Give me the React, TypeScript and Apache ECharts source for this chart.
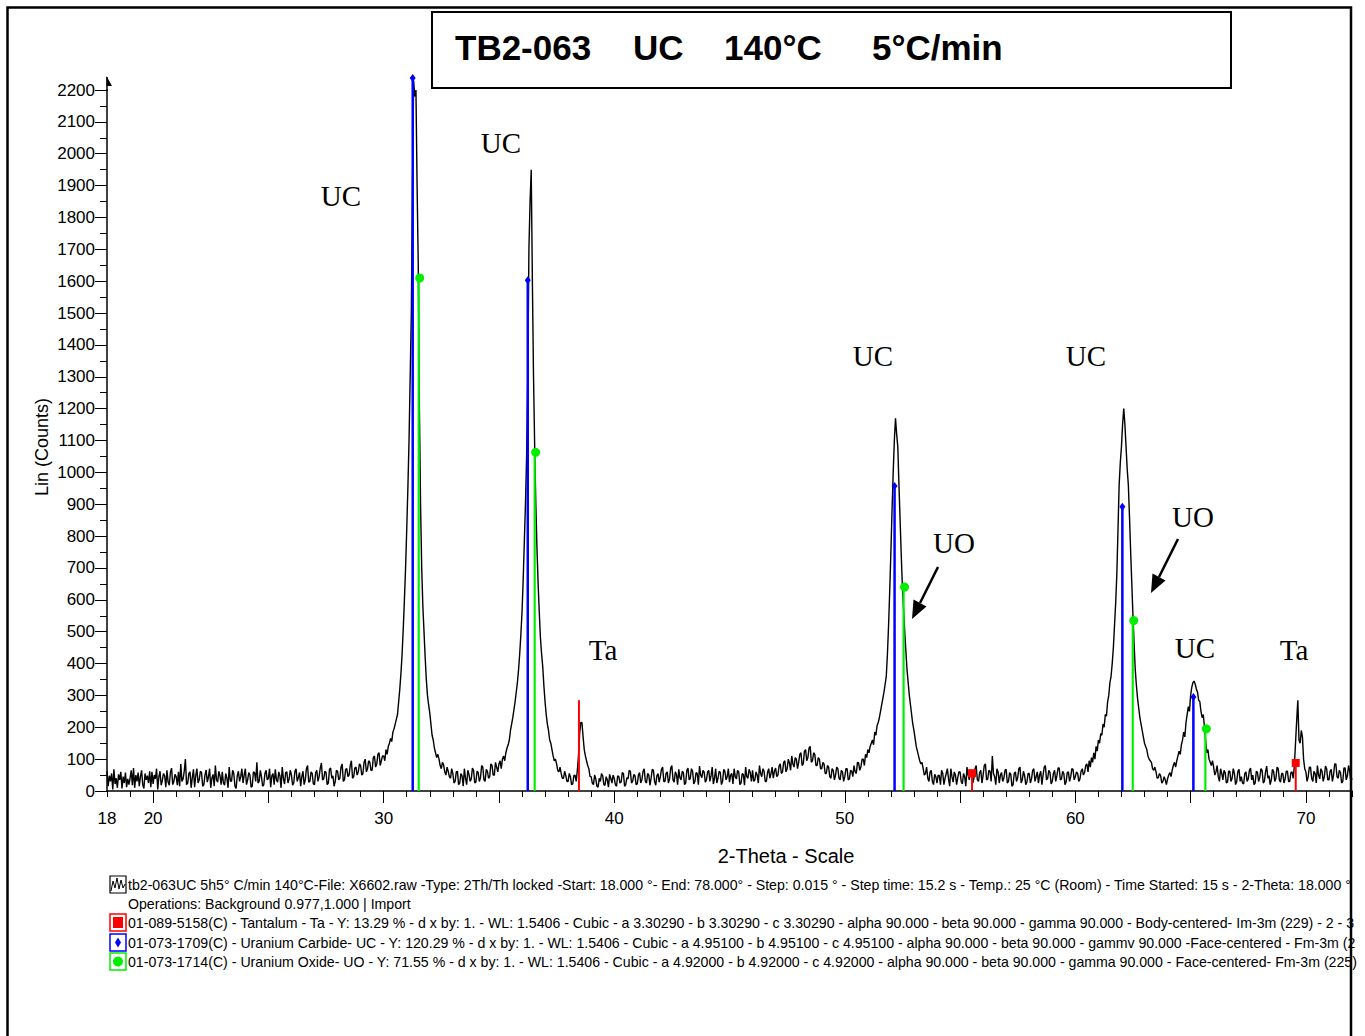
import React, { useEffect, useRef } from "react";
import * as echarts from "echarts";

// ---- data ----
const scanStart = 18.0;
const scanStep = 0.05;
// Lin (Counts), one value per 0.05° 2-theta, 18.00 .. 72.00 (20 values per degree)
const counts: number[] = [
  62, 15, 48, 30, 55, 5, 68, 22, 40, 10, 52, 35, 60, 8, 45, 25, 58, 12, 38, 20, // 18
  40, 65, 18, 72, 10, 50, 30, 58, 15, 45, 65, 20, 8, 55, 35, 48, 25, 62, 12, 60, // 19
  22, 50, 38, 70, 5, 44, 62, 18, 33, 55, 48, 12, 65, 28, 18, 58, 72, 20, 30, 52, // 20
  45, 18, 60, 15, 85, 30, 38, 62, 100, 20, 25, 55, 60, 10, 42, 68, 12, 48, 70, 25, // 21
  35, 62, 58, 15, 20, 50, 66, 28, 44, 70, 10, 40, 52, 15, 80, 35, 28, 62, 48, 20, // 22
  60, 25, 18, 55, 40, 10, 75, 32, 30, 65, 55, 15, 8, 48, 62, 30, 45, 70, 25, 50, // 23
  70, 20, 35, 58, 50, 12, 15, 60, 58, 30, 90, 25, 30, 65, 45, 15, 20, 55, 65, 35, // 24
  40, 70, 12, 48, 55, 20, 68, 35, 28, 60, 48, 10, 75, 40, 22, 58, 60, 25, 38, 65, // 25
  50, 18, 25, 62, 70, 30, 42, 58, 15, 45, 62, 20, 35, 70, 80, 28, 30, 60, 55, 22, // 26
  20, 58, 65, 30, 45, 72, 88, 35, 38, 62, 58, 20, 25, 68, 72, 40, 48, 15, 30, 65, // 27
  62, 35, 40, 75, 85, 30, 35, 68, 70, 45, 50, 80, 95, 40, 45, 72, 75, 50, 60, 85, // 28
  80, 50, 55, 90, 100, 60, 70, 95, 90, 65, 65, 105, 110, 75, 85, 115, 120, 80, 95, 110, // 29
  110, 95, 130, 115, 140, 150, 165, 155, 185, 195, 210, 225, 240, 280, 320, 370, 430, 510, 600, 700, // 30
  820, 950, 1100, 1300, 1500, 1900, 2230, 2180, 2200, 1900, 1650, 1200, 900, 700, 580, 500, 420, 350, 300, 270, // 31
  245, 210, 175, 160, 135, 120, 105, 115, 100, 80, 70, 90, 82, 60, 50, 75, 62, 45, 40, 70, // 32
  55, 25, 30, 60, 62, 20, 25, 55, 48, 15, 70, 40, 20, 65, 52, 30, 38, 72, 65, 25, // 33
  28, 62, 58, 30, 42, 80, 75, 35, 30, 68, 62, 40, 45, 85, 80, 50, 50, 90, 75, 60, // 34
  85, 95, 70, 100, 110, 95, 120, 135, 145, 160, 190, 210, 230, 255, 280, 310, 340, 380, 430, 490, // 35
  560, 660, 780, 900, 1050, 1300, 1700, 1850, 1950, 1600, 1300, 1080, 900, 760, 650, 560, 480, 430, 390, 330, // 36
  280, 240, 210, 190, 160, 150, 130, 110, 95, 100, 85, 65, 60, 75, 55, 40, 40, 62, 48, 30, // 37
  30, 55, 45, 20, 22, 48, 50, 30, 65, 110, 180, 215, 215, 170, 130, 110, 95, 80, 70, 45, // 38
  45, 25, 20, 50, 38, 15, 12, 40, 30, 55, 48, 20, 18, 45, 35, 12, 52, 40, 25, 50, // 39
  40, 20, 15, 48, 45, 25, 28, 58, 55, 15, 20, 42, 38, 65, 62, 25, 30, 52, 48, 20, // 40
  22, 50, 58, 25, 35, 62, 70, 30, 25, 55, 50, 18, 40, 68, 65, 30, 18, 48, 55, 28, // 41
  45, 68, 75, 30, 30, 55, 60, 25, 38, 72, 80, 35, 28, 60, 52, 20, 68, 42, 35, 62, // 42
  58, 20, 25, 65, 72, 35, 40, 70, 62, 22, 30, 58, 55, 20, 78, 50, 42, 65, 60, 28, // 43
  35, 60, 65, 30, 48, 75, 22, 40, 70, 25, 40, 62, 58, 20, 30, 68, 62, 35, 45, 70, // 44
  28, 50, 55, 22, 70, 45, 38, 65, 60, 20, 25, 55, 52, 18, 75, 45, 40, 68, 58, 30, // 45
  65, 30, 35, 60, 50, 25, 80, 55, 45, 70, 62, 30, 30, 58, 70, 40, 55, 75, 40, 62, // 46
  72, 45, 50, 78, 85, 55, 60, 90, 95, 60, 70, 100, 88, 65, 110, 85, 75, 105, 100, 70, // 47
  90, 115, 120, 80, 85, 125, 130, 95, 105, 135, 140, 90, 95, 120, 115, 80, 80, 105, 100, 70, // 48
  70, 90, 85, 55, 55, 80, 75, 45, 40, 70, 65, 35, 50, 75, 70, 40, 35, 65, 60, 30, // 49
  45, 70, 70, 35, 38, 65, 62, 45, 80, 60, 55, 90, 88, 65, 75, 100, 100, 80, 115, 105, // 50
  130, 120, 140, 150, 160, 145, 185, 175, 205, 215, 230, 250, 270, 290, 310, 335, 360, 430, 520, 630, // 51
  750, 880, 1000, 1100, 1170, 1120, 1080, 960, 850, 740, 640, 570, 500, 440, 380, 340, 300, 270, 240, 210, // 52
  190, 165, 140, 125, 110, 95, 85, 90, 70, 50, 55, 75, 40, 30, 60, 65, 30, 20, 52, 45, // 53
  25, 50, 48, 20, 65, 55, 20, 40, 55, 70, 38, 15, 70, 45, 28, 60, 50, 20, 42, 60, // 54
  60, 30, 22, 55, 45, 15, 75, 50, 35, 62, 58, 25, 40, 70, 80, 35, 30, 58, 65, 25, // 55
  50, 80, 85, 35, 38, 65, 62, 30, 110, 55, 45, 20, 70, 60, 25, 50, 58, 30, 40, 65, // 56
  68, 25, 30, 58, 52, 15, 20, 55, 60, 30, 42, 70, 75, 25, 35, 62, 48, 20, 28, 55, // 57
  55, 25, 38, 65, 70, 30, 45, 60, 25, 50, 62, 20, 50, 75, 80, 35, 40, 65, 58, 22, // 58
  30, 55, 65, 30, 48, 72, 72, 35, 38, 62, 55, 20, 28, 58, 60, 30, 45, 70, 68, 35, // 59
  45, 60, 55, 30, 38, 62, 70, 50, 58, 80, 85, 60, 95, 75, 105, 90, 120, 100, 140, 125, // 60
  160, 150, 180, 175, 210, 200, 240, 235, 280, 300, 340, 360, 400, 450, 520, 590, 680, 820, 960, 1030, // 61
  1080, 1150, 1200, 1150, 1080, 1010, 960, 860, 750, 650, 550, 460, 380, 330, 290, 260, 230, 210, 190, 170, // 62
  150, 140, 130, 110, 100, 95, 90, 70, 65, 75, 60, 40, 42, 55, 48, 25, 30, 45, 35, 20, // 63
  38, 50, 58, 45, 65, 80, 90, 75, 95, 110, 125, 115, 145, 160, 185, 170, 215, 240, 265, 250, // 64
  300, 325, 340, 345, 335, 320, 310, 285, 280, 250, 230, 240, 200, 160, 120, 130, 100, 90, 80, 95, // 65
  75, 50, 60, 80, 45, 30, 70, 55, 35, 65, 58, 25, 28, 62, 62, 30, 40, 70, 55, 20, // 66
  30, 62, 68, 30, 45, 25, 22, 55, 60, 30, 38, 65, 72, 35, 50, 20, 25, 62, 58, 30, // 67
  42, 70, 65, 25, 30, 60, 78, 40, 48, 20, 35, 68, 62, 30, 40, 75, 70, 35, 28, 55, // 68
  55, 25, 38, 62, 62, 30, 30, 58, 60, 40, 80, 150, 220, 285, 160, 150, 190, 170, 100, 70, // 69
  60, 30, 45, 75, 75, 40, 30, 62, 55, 25, 80, 50, 38, 70, 62, 30, 45, 78, 70, 35, // 70
  35, 62, 68, 30, 50, 85, 85, 45, 40, 65, 58, 25, 30, 72, 72, 35, 48, 80, 62, 30, // 71
  40, // 72
];

const xTickLabels = [18, 20, 30, 40, 50, 60, 70];
const xMediumTicks = [20, 25, 30, 35, 40, 45, 50, 55, 60, 65, 70];

// reference stick patterns [2-theta, counts]
const tantalumSticks: number[][] = [[38.47, 285], [55.52, 56], [69.56, 88]];
const uraniumCarbideSticks: number[][] = [[31.26, 2238], [36.25, 1603], [52.16, 957], [62.04, 892], [65.12, 295]];
const uraniumOxideSticks: number[][] = [[31.52, 1610], [36.55, 1063], [52.55, 640], [62.49, 535], [65.64, 195]];
const tantalumMarkerShown = [false, true, true];

const titleParts = ["TB2-063", "UC", "140°C", "5°C/min"];
const legendLines = [
  "tb2-063UC 5h5° C/min 140°C-File: X6602.raw -Type: 2Th/Th locked -Start: 18.000 °- End: 78.000° - Step: 0.015 ° - Step time: 15.2 s - Temp.: 25 °C (Room) - Time Started: 15 s - 2-Theta: 18.000 °",
  "Operations: Background 0.977,1.000 | Import",
  "01-089-5158(C) - Tantalum - Ta - Y: 13.29 % - d x by: 1. - WL: 1.5406 - Cubic - a 3.30290 - b 3.30290 - c 3.30290 - alpha 90.000 - beta 90.000 - gamma 90.000 - Body-centered- Im-3m (229) - 2 - 3",
  "01-073-1709(C) - Uranium Carbide- UC - Y: 120.29 % - d x by: 1. - WL: 1.5406 - Cubic - a 4.95100 - b 4.95100 - c 4.95100 - alpha 90.000 - beta 90.000 - gammv 90.000 -Face-centered - Fm-3m (2",
  "01-073-1714(C) - Uranium Oxide- UO - Y: 71.55 % - d x by: 1. - WL: 1.5406 - Cubic - a 4.92000 - b 4.92000 - c 4.92000 - alpha 90.000 - beta 90.000 - gamma 90.000 - Face-centered- Fm-3m (225)",
];

// ---- layout ----
const SANS = "'Liberation Sans', Arial, Helvetica, sans-serif";
const SERIF = "'Liberation Serif', 'Times New Roman', serif";
const plotLeft = 107;
const plotTop = 90;
const plotWidth = 1245;
const plotHeight = 701;
const xMin = 18;
const xMax = 72;

function stickRenderer(color: string, marker: string, width: number, shown?: boolean[]) {
  return (params: any, api: any) => {
    const x = api.value(0);
    const y = api.value(1);
    const base = api.coord([x, 0]);
    const top = api.coord([x, y]);
    const children: any[] = [
      {
        type: "line",
        shape: { x1: base[0], y1: base[1], x2: top[0], y2: top[1] },
        style: { stroke: color, lineWidth: width },
      },
    ];
    const show = shown ? shown[params.dataIndex] : true;
    if (show) {
      if (marker === "circle") {
        children.push({ type: "circle", shape: { cx: top[0] + 1, cy: top[1], r: 4.5 }, style: { fill: color } });
      } else if (marker === "diamond") {
        children.push({
          type: "polygon",
          shape: { points: [[top[0], top[1] - 4], [top[0] + 3, top[1]], [top[0], top[1] + 4], [top[0] - 3, top[1]]] },
          style: { fill: color },
        });
      } else if (marker === "square") {
        children.push({ type: "rect", shape: { x: top[0] - 4, y: top[1] - 4, width: 8, height: 8 }, style: { fill: color } });
      }
    }
    return { type: "group", children };
  };
}

function measureScale(text: string, font: string, target: number): number {
  try {
    const ctx = document.createElement("canvas").getContext("2d");
    if (!ctx) return 1;
    ctx.font = font;
    const w = ctx.measureText(text).width;
    return w > 0 ? target / w : 1;
  } catch (e) {
    return 1;
  }
}

export default function App() {
  const ref = useRef<HTMLDivElement | null>(null);

  useEffect(() => {
    if (!ref.current) return;
    const chart = echarts.init(ref.current, undefined, { renderer: "svg" });

    const profile = counts.map((c, i) => [+(scanStart + i * scanStep).toFixed(2), c]);
    const legendScale = measureScale(legendLines[4], `14px ${SANS}`, 1230);

    const rowY = [885, 904, 923, 943, 962];
    const titleX = [455, 633, 724, 872];

    const annotations = [
      { t: "UC", x: 341, y: 196 },
      { t: "UC", x: 501, y: 143 },
      { t: "Ta", x: 603, y: 650 },
      { t: "UC", x: 873, y: 356 },
      { t: "UO", x: 954, y: 543 },
      { t: "UC", x: 1086, y: 356 },
      { t: "UO", x: 1193, y: 517 },
      { t: "UC", x: 1195, y: 648 },
      { t: "Ta", x: 1294, y: 650 },
    ];

    const graphic: any[] = [
      // outer frame
      {
        type: "rect", z: 200,
        shape: { x: 7.5, y: 7.5, width: 1343.5, height: 1040 },
        style: { fill: "none", stroke: "#000", lineWidth: 2.5 },
      },
      // title box
      {
        type: "rect", z: 50,
        shape: { x: 432, y: 12, width: 799, height: 76 },
        style: { fill: "#fff", stroke: "#000", lineWidth: 2 },
      },
      ...titleParts.map((t, i) => ({
        type: "text", z: 51, x: titleX[i], y: 47,
        style: { text: t, fontSize: 35, fontWeight: "bold", fontFamily: SANS, fill: "#000", align: "left", verticalAlign: "middle" },
      })),
      // y axis extension and arrow head
      { type: "line", z: 60, shape: { x1: plotLeft, y1: plotTop + 1, x2: plotLeft, y2: 77 }, style: { stroke: "#000", lineWidth: 1.5 } },
      { type: "polygon", z: 60, shape: { points: [[plotLeft - 0.5, 76], [plotLeft - 0.5, 86], [plotLeft + 5, 86]] }, style: { fill: "#000" } },
      // axis titles
      {
        type: "text", z: 60, x: 42, y: 447, rotation: Math.PI / 2,
        style: { text: "Lin (Counts)", fontSize: 18, fontFamily: SANS, fill: "#000", align: "center", verticalAlign: "middle" },
      },
      {
        type: "text", z: 60, x: 786, y: 856,
        style: { text: "2-Theta - Scale", fontSize: 20, fontFamily: SANS, fill: "#000", align: "center", verticalAlign: "middle" },
      },
      // peak annotations
      ...annotations.map((a) => ({
        type: "text", z: 60, x: a.x, y: a.y,
        style: { text: a.t, fontSize: 29, fontFamily: SERIF, fill: "#000", align: "center", verticalAlign: "middle" },
      })),
      // arrows
      { type: "line", z: 60, shape: { x1: 938, y1: 567, x2: 920, y2: 603 }, style: { stroke: "#000", lineWidth: 2.5 } },
      { type: "polygon", z: 60, shape: { points: [[912, 619], [926.5, 606.5], [913.5, 599.5]] }, style: { fill: "#000" } },
      { type: "line", z: 60, shape: { x1: 1178, y1: 539, x2: 1159, y2: 577 }, style: { stroke: "#000", lineWidth: 2.5 } },
      { type: "polygon", z: 60, shape: { points: [[1151, 593], [1165.5, 580.5], [1152.5, 573.5]] }, style: { fill: "#000" } },
      // legend icons
      { type: "rect", z: 60, shape: { x: 110, y: 876, width: 16, height: 17 }, style: { fill: "#fff", stroke: "#000", lineWidth: 1.2 } },
      {
        type: "polyline", z: 61,
        shape: { points: [[111, 891], [113, 881], [115, 888], [117, 878], [119, 889], [121, 880], [123, 888], [125, 884]] },
        style: { stroke: "#000", lineWidth: 1, fill: "none" },
      },
      { type: "rect", z: 60, shape: { x: 110, y: 914, width: 16, height: 17 }, style: { fill: "#fff", stroke: "#ff0000", lineWidth: 1.5 } },
      { type: "rect", z: 61, shape: { x: 113, y: 917, width: 10, height: 11 }, style: { fill: "#ff0000" } },
      { type: "rect", z: 60, shape: { x: 110, y: 934, width: 16, height: 17 }, style: { fill: "#fff", stroke: "#0000ff", lineWidth: 1.5 } },
      { type: "polygon", z: 61, shape: { points: [[118, 937.5], [121, 942.5], [118, 947.5], [115, 942.5]] }, style: { fill: "#0000ff" } },
      { type: "rect", z: 60, shape: { x: 110, y: 953, width: 16, height: 17 }, style: { fill: "#fff", stroke: "#00ee00", lineWidth: 1.5 } },
      { type: "circle", z: 61, shape: { cx: 118, cy: 961.5, r: 5 }, style: { fill: "#00ee00" } },
      // legend text lines
      ...legendLines.map((t, i) => ({
        type: "text", z: 60, x: 128, y: rowY[i], scaleX: legendScale,
        style: { text: t, fontSize: 14, fontFamily: SANS, fill: "#000", align: "left", verticalAlign: "middle" },
      })),
    ];

    const tickLine = { color: "#000", width: 1 };

    chart.setOption({
      animation: false,
      backgroundColor: "#fff",
      textStyle: { fontFamily: SANS },
      grid: [{ left: plotLeft, top: plotTop, width: plotWidth, height: plotHeight }],
      xAxis: [
        {
          type: "value", gridIndex: 0, position: "bottom", min: xMin, max: xMax, interval: 1,
          axisLine: { show: true, onZero: false, lineStyle: { color: "#000", width: 1.5 } },
          axisTick: { show: true, length: 6, lineStyle: tickLine },
          axisLabel: {
            fontSize: 17, color: "#000", margin: 19, fontFamily: SANS,
            formatter: (v: number) => {
              const r = Math.round(v);
              return Math.abs(v - r) < 1e-6 && xTickLabels.includes(r) ? String(r) : "";
            },
          },
          splitLine: { show: false },
        },
        {
          type: "value", gridIndex: 0, position: "bottom", offset: 0, min: xMin, max: xMax,
          axisLine: { show: false, onZero: false },
          axisTick: { show: true, length: 12, lineStyle: tickLine, customValues: xMediumTicks },
          axisLabel: { show: false },
          splitLine: { show: false },
        },
      ],
      yAxis: [
        {
          type: "value", gridIndex: 0, min: 0, max: 2200, interval: 100,
          axisLine: { show: true, onZero: false, lineStyle: { color: "#000", width: 1.5 } },
          axisTick: { show: true, length: 12, lineStyle: tickLine },
          minorTick: { show: true, splitNumber: 2, length: 7, lineStyle: tickLine },
          axisLabel: { fontSize: 17, color: "#000", margin: 12, fontFamily: SANS, formatter: (v: number) => String(v) },
          splitLine: { show: false },
          minorSplitLine: { show: false },
        },
      ],
      series: [
        {
          name: "tb2-063UC",
          type: "line",
          xAxisIndex: 0,
          yAxisIndex: 0,
          data: profile,
          showSymbol: false,
          clip: false,
          z: 3,
          lineStyle: { color: "#000", width: 1.4 },
        },
        {
          name: "Tantalum - Ta",
          type: "custom",
          xAxisIndex: 0,
          yAxisIndex: 0,
          data: tantalumSticks,
          clip: false,
          z: 5,
          renderItem: stickRenderer("#ff0000", "square", 2, tantalumMarkerShown),
        },
        {
          name: "Uranium Carbide - UC",
          type: "custom",
          xAxisIndex: 0,
          yAxisIndex: 0,
          data: uraniumCarbideSticks,
          clip: false,
          z: 5,
          renderItem: stickRenderer("#0000ff", "diamond", 2.5),
        },
        {
          name: "Uranium Oxide - UO",
          type: "custom",
          xAxisIndex: 0,
          yAxisIndex: 0,
          data: uraniumOxideSticks,
          clip: false,
          z: 5,
          renderItem: stickRenderer("#00ee00", "circle", 2.2),
        },
      ],
      graphic,
    });

    return () => {
      chart.dispose();
    };
  }, []);

  return (
    <div
      ref={ref}
      style={{ position: "absolute", left: 0, top: 0, width: 1365, height: 1036, background: "#fff" }}
    />
  );
}
